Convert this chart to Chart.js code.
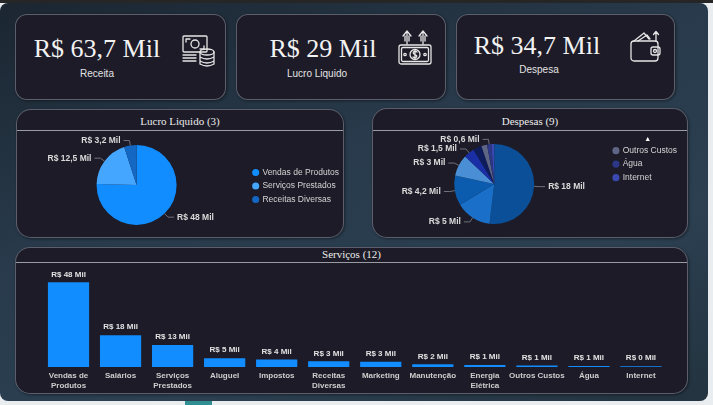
<!DOCTYPE html>
<html>
<head>
<meta charset="utf-8">
<script src="https://cdn.jsdelivr.net/npm/chart.js@4.4.1/dist/chart.umd.min.js"></script>
<style>
  html, body { margin: 0; padding: 0; }
  body { width: 713px; height: 405px; background: #e9edf0; position: relative; overflow: hidden; font-family: 'Liberation Sans', sans-serif; }
  .topstrip { position: absolute; left: 0; top: 0; width: 713px; height: 3px; background: #262626; }
  .panel { position: absolute; left: 0; top: 3px; width: 708px; height: 398px; border-radius: 8px;
    background: linear-gradient(160deg, #1b2631 0%, #283a4b 40%, #2c4052 70%, #23333f 100%); }
  .tab { position: absolute; left: 185px; top: 401px; width: 27px; height: 4px; background: #2f8f93; }
  .card { position: absolute; background: #1c1b27; border: 1px solid rgba(170,178,192,0.45); box-sizing: border-box;
    box-shadow: 1px 1px 3px rgba(0,0,0,0.45); }
  .kpi { border-radius: 12px; }
  .box { border-radius: 15px; }
  .value { position: absolute; font-family: 'Liberation Serif', serif; font-size: 26px; color: #f2f2f2; white-space: nowrap; text-align: center; }
  .sub { position: absolute; font-size: 10px; color: #e4e4e4; white-space: nowrap; text-align: center; }
  .title { position: absolute; left: 0; right: 0; text-align: center; font-family: 'Liberation Serif', serif; font-size: 11px; color: #ececec; }
  .sep { position: absolute; left: 0; right: 0; height: 1px; background: #9a9ca4; }
  svg.icon { position: absolute; fill: none; stroke: #e6e6e6; stroke-width: 1.3; stroke-linecap: round; stroke-linejoin: round; }
  canvas { position: absolute; }
</style>
</head>
<body>
<div class="topstrip"></div>
<div class="panel"></div>
<div class="tab"></div>

<!-- KPI cards -->
<div class="card kpi" style="left:15px; top:14px; width:211px; height:86px;"></div>
<div class="card kpi" style="left:236px; top:14px; width:210px; height:86px;"></div>
<div class="card kpi" style="left:456px; top:14px; width:219px; height:86px;"></div>

<div class="value" id="kpiReceita" style="left:17px; top:34px; width:160px;"></div>
<div class="sub" style="left:47px; top:68px; width:100px;">Receita</div>
<div class="value" id="kpiLucro" style="left:243px; top:34px; width:160px;"></div>
<div class="sub" style="left:267px; top:68px; width:100px;">Lucro Liquido</div>
<div class="value" id="kpiDespesa" style="left:457px; top:31px; width:160px;"></div>
<div class="sub" style="left:489px; top:64px; width:100px;">Despesa</div>

<svg class="icon" style="left:181px; top:33px;" width="36" height="36" viewBox="0 0 36 36">
  <rect x="2" y="3" width="24" height="16" rx="1"/>
  <path d="M5 6 h4 M5 6 v3 M23 16 h-4 M23 16 v-3"/>
  <circle cx="14" cy="11" r="4"/>
  <path d="M2 22 h13 M2 25 h13 M2 28 h13"/>
  <ellipse cx="26" cy="19" rx="7" ry="3"/>
  <path d="M19 19 v12 M33 19 v12 M19 24 q7 4 14 0 M19 28 q7 4 14 0 M19 31 q7 4 14 0"/>
</svg>
<svg class="icon" style="left:397px; top:27px;" width="36" height="40" viewBox="0 0 36 40">
  <path d="M10 17 v-11 M6 9 l4 -5 l4 5 M8 9 v5 M12 9 v5"/>
  <path d="M26 17 v-11 M22 9 l4 -5 l4 5 M24 9 v5 M28 9 v5"/>
  <rect x="2" y="18" width="32" height="19" rx="2"/>
  <rect x="4.5" y="20.5" width="27" height="14" rx="1.5"/>
  <circle cx="18" cy="27.5" r="5"/>
  <path d="M20 25 q-2 -1.5 -3.5 0 q-1 1.5 1.5 2.5 q2.5 1 1.5 2.5 q-1.5 1.5 -3.5 0 M18 23.5 v8"/>
  <circle cx="8" cy="27.5" r="1.2"/>
  <circle cx="28" cy="27.5" r="1.2"/>
</svg>
<svg class="icon" style="left:629px; top:29px;" width="36" height="36" viewBox="0 0 36 36">
  <path d="M5 12 l10 -8 l5 6"/>
  <path d="M9 12 l9 -6 l3 4"/>
  <path d="M27 12 v-9 M24.5 5.5 l2.5 -3 l2.5 3"/>
  <rect x="2" y="12" width="27" height="20" rx="3"/>
  <rect x="22" y="18" width="9" height="8" rx="2"/>
  <circle cx="26" cy="22" r="1.5"/>
</svg>

<!-- chart cards -->
<div class="card box" style="left:16px; top:109px; width:328px; height:129px;">
  <div class="title" style="top:5px;">Lucro Liquido (3)</div>
  <div class="sep" style="top:20px;"></div>
</div>
<div class="card box" style="left:372px; top:108px; width:316px; height:130px;">
  <div class="title" style="top:6px;">Despesas (9)</div>
  <div class="sep" style="top:21px;"></div>
</div>
<div class="card box" style="left:15px; top:247px; width:673px; height:147px;">
  <div class="title" style="top:0px;">Serviços (12)</div>
  <div class="sep" style="top:14px;"></div>
</div>

<canvas id="lucroChart" width="327" height="106" style="left:16px; top:131px; width:327px; height:106px;"></canvas>
<canvas id="despesaChart" width="314" height="106" style="left:373px; top:131px; width:314px; height:106px;"></canvas>
<canvas id="servicoChart" width="671" height="130" style="left:16px; top:263px; width:671px; height:130px;"></canvas>

<script>
// --- Data ---
const receitaLabels = ['Vendas de Produtos', 'Serviços Prestados', 'Receitas Diversas'];
const receitaValues = [48, 12.5, 3.2];
const receitaColors = ['#118dff', '#45a6ff', '#1467c2'];

const despesaLabels = ['Salários', 'Aluguel', 'Impostos', 'Marketing', 'Manutenção', 'Energia Elétrica', 'Outros Custos', 'Água', 'Internet'];
const despesaValues = [18, 5, 4.2, 3, 1.5, 1.2, 0.8, 0.6, 0.4];
const despesaColors = ['#0a4f97', '#1a70c9', '#0b5cae', '#4a8fd6', '#1a2fa6', '#0e1c5c', '#5f6584', '#2c3786', '#3a49b2'];
const despesaLabelShown = [0, 1, 2, 3, 4, 7];

const servicoLabels = [['Vendas de', 'Produtos'], 'Salários', ['Serviços', 'Prestados'], 'Aluguel', 'Impostos',
  ['Receitas', 'Diversas'], 'Marketing', 'Manutenção', ['Energia', 'Elétrica'], 'Outros Custos', 'Água', 'Internet'];
const servicoValues = [48, 18, 12.5, 5, 4.2, 3.2, 3, 1.5, 1.2, 0.8, 0.6, 0.4];

// --- Helpers ---
const fmtMil = v => 'R$ ' + String(Math.round(v * 10) / 10).replace('.', ',') + ' Mil';
const fmtMilInt = v => 'R$ ' + Math.round(v) + ' Mil';
const sum = arr => arr.reduce((a, b) => a + b, 0);

const totalReceita = sum(receitaValues);
const totalDespesa = sum(despesaValues);
document.getElementById('kpiReceita').textContent = fmtMil(totalReceita);
document.getElementById('kpiDespesa').textContent = fmtMil(totalDespesa);
document.getElementById('kpiLucro').textContent = fmtMil(totalReceita - totalDespesa);

// Outside labels with leader lines for the pies
const outLabels = {
    id: 'outLabels',
    afterDatasetsDraw(chart, args, opts) {
        const { ctx } = chart;
        const meta = chart.getDatasetMeta(0);
        const values = chart.data.datasets[0].data;
        ctx.save();
        ctx.font = opts.font;
        ctx.textBaseline = 'middle';
        meta.data.forEach((arc, i) => {
            if (opts.show && !opts.show.includes(i)) return;
            const mid = (arc.startAngle + arc.endAngle) / 2;
            const cos = Math.cos(mid), sin = Math.sin(mid);
            const r = arc.outerRadius;
            const x0 = arc.x + cos * r, y0 = arc.y + sin * r;
            const x1 = arc.x + cos * (r + 5), y1 = arc.y + sin * (r + 5);
            const dir = cos >= 0 ? 1 : -1;
            const x2 = x1 + dir * 6;
            ctx.strokeStyle = '#6f727a';
            ctx.lineWidth = 1;
            ctx.beginPath();
            ctx.moveTo(x0, y0);
            ctx.lineTo(x1, y1);
            ctx.lineTo(x2, y1);
            ctx.stroke();
            ctx.fillStyle = '#dadada';
            ctx.textAlign = dir > 0 ? 'left' : 'right';
            ctx.fillText(fmtMil(values[i]), x2 + dir * 3, y1);
        });
        ctx.restore();
    }
};

// Value labels above bars
const barLabels = {
    id: 'barLabels',
    afterDatasetsDraw(chart) {
        const { ctx } = chart;
        const meta = chart.getDatasetMeta(0);
        const values = chart.data.datasets[0].data;
        ctx.save();
        ctx.font = "bold 8px 'Liberation Sans', sans-serif";
        ctx.fillStyle = '#e2e2e2';
        ctx.textAlign = 'center';
        ctx.textBaseline = 'middle';
        meta.data.forEach((bar, i) => {
            ctx.fillText(fmtMilInt(values[i]), bar.x, bar.y - 8);
        });
        ctx.restore();
    }
};

const legendFont = { family: "'Liberation Sans', sans-serif", size: 8.5 };

function pieChart(id, labels, values, colors, opts) {
    return new Chart(document.getElementById(id), {
        type: 'pie',
        data: {
            labels: labels,
            datasets: [{ data: values, backgroundColor: colors, borderWidth: 0, radius: 40 }]
        },
        options: {
            responsive: false,
            animation: false,
            layout: { padding: opts.padding },
            plugins: {
                tooltip: { enabled: false },
                legend: {
                    position: 'right',
                    align: opts.align,
                    title: opts.title,
                    labels: {
                        color: '#d4d4d4',
                        font: legendFont,
                        usePointStyle: true,
                        pointStyle: 'circle',
                        boxWidth: 5,
                        boxHeight: 5,
                        padding: 5,
                        filter: opts.filter
                    }
                },
                outLabels: { font: "bold 8.5px 'Liberation Sans', sans-serif", show: opts.show }
            }
        },
        plugins: [outLabels]
    });
}

pieChart('lucroChart', receitaLabels, receitaValues, receitaColors, {
    padding: { left: 9, right: -6, top: 2, bottom: -2 },
    align: 'center'
});

pieChart('despesaChart', despesaLabels, despesaValues, despesaColors, {
    padding: { left: 7, right: 0, top: -2, bottom: -2 },
    align: 'start',
    show: despesaLabelShown,
    filter: item => item.index >= 6,
    title: { display: true, text: '▲', color: '#ffffff', font: { size: 7 }, padding: { top: 7, bottom: -3 } }
});

new Chart(document.getElementById('servicoChart'), {
    type: 'bar',
    data: {
        labels: servicoLabels,
        datasets: [{
            data: servicoValues,
            backgroundColor: '#118dff',
            borderWidth: 0,
            categoryPercentage: 0.8,
            barPercentage: 0.99
        }]
    },
    options: {
        responsive: false,
        animation: false,
        layout: { padding: { left: 26.5, right: 20, top: 7, bottom: 0 } },
        plugins: { legend: { display: false }, tooltip: { enabled: false } },
        scales: {
            x: {
                grid: { display: false, drawTicks: false },
                border: { display: false },
                ticks: {
                    color: '#cdcdcd',
                    font: { family: "'Liberation Sans', sans-serif", size: 8, weight: 'bold' },
                    maxRotation: 0,
                    autoSkip: false,
                    padding: 4
                },
                afterFit: axis => { axis.height = 26; }
            },
            y: { display: false, min: 0, max: 55 }
        }
    },
    plugins: [barLabels]
});
</script>
</body>
</html>
